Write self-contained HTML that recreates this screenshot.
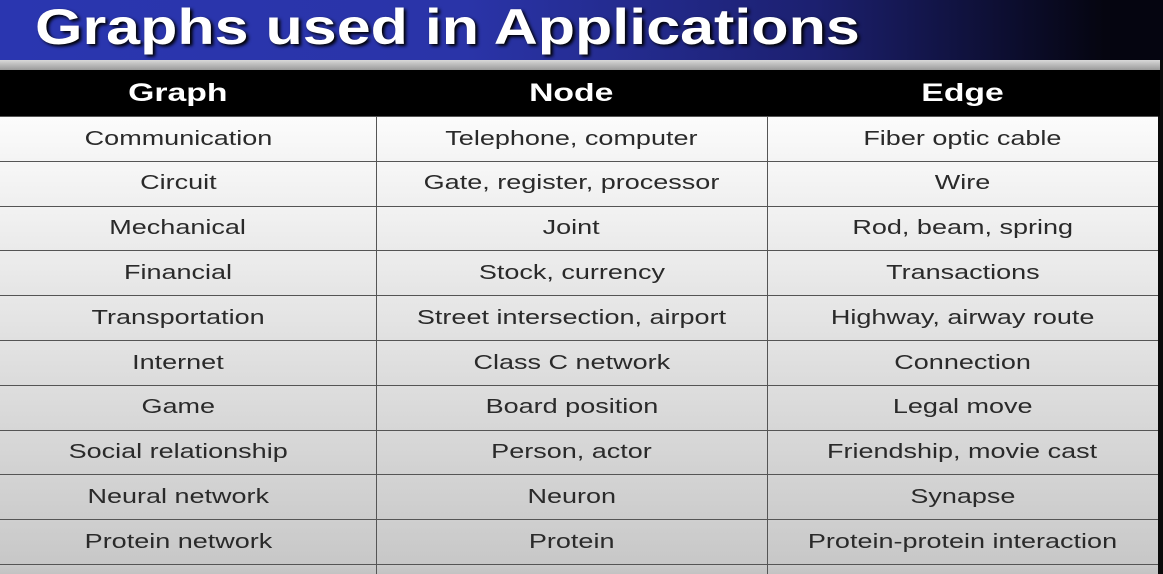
<!DOCTYPE html>
<html><head><meta charset="utf-8"><style>
html,body{margin:0;padding:0;width:1163px;height:574px;overflow:hidden;background:#0a0a0a;font-family:"Liberation Sans",sans-serif}
#wrap{position:relative;width:1163px;height:574px;overflow:hidden}
.title{position:absolute;left:0;top:0;width:1163px;height:60px;background:linear-gradient(90deg,#2a36b0 0%,#2a34a8 40%,#1c2070 70%,#050510 95%)}
.title span{position:absolute;left:35px;top:-2px;font-size:50px;font-weight:bold;color:#fff;transform:scaleX(1.22);transform-origin:left top;white-space:nowrap;text-shadow:2px 2px 3px #000}
.band{position:absolute;left:0;top:60px;width:1160px;height:10px;background:linear-gradient(#d8d8d8,#9a9a9a)}
.hdr{position:absolute;left:0;top:70px;width:1160px;height:46px;background:#000}
.cell{position:absolute;display:flex;align-items:center;justify-content:center;white-space:nowrap}
.cell span{display:inline-block;transform:scaleX(1.35)}
.h span{color:#fff;font-weight:bold;font-size:25px;transform:scaleX(1.35)}
.r{position:absolute;left:0;width:1158px;border-top:1.5px solid #555;}
.c span{font-size:20px;color:#2a2a2a}
.vl{position:absolute;top:116px;height:458px;width:1px;background:#555}
</style></head><body><div id="wrap">
<div class="title"><span>Graphs used in Applications</span></div>
<div class="band"></div>
<div class="hdr"></div>
<div class="cell h" style="left:0;width:356px;top:70px;height:46px"><span>Graph</span></div>
<div class="cell h" style="left:376px;width:391px;top:70px;height:46px"><span>Node</span></div>
<div class="cell h" style="left:767px;width:391px;top:70px;height:46px"><span>Edge</span></div>
<div id="rows"></div>
</div>
<script>
var d=[["Communication","Telephone, computer","Fiber optic cable"],["Circuit","Gate, register, processor","Wire"],["Mechanical","Joint","Rod, beam, spring"],["Financial","Stock, currency","Transactions"],["Transportation","Street intersection, airport","Highway, airway route"],["Internet","Class C network","Connection"],["Game","Board position","Legal move"],["Social relationship","Person, actor","Friendship, movie cast"],["Neural network","Neuron","Synapse"],["Protein network","Protein","Protein-protein interaction"],["","",""]];
var h="",xs=[[0,356],[376,391],[767,391]];
for(var i=0;i<d.length;i++){var t=116+i*44.8;var hh=(i==d.length-1)?(574-t):44.8;var g=Math.round(252-i*5);
h+='<div class="r" style="top:'+t+'px;height:'+hh+'px;background:linear-gradient('+'rgb('+g+','+g+','+g+'),rgb('+(g-8)+','+(g-8)+','+(g-8)+'))"></div>';
if(d[i][0])for(var j=0;j<3;j++)h+='<div class="cell c" style="left:'+xs[j][0]+'px;width:'+xs[j][1]+'px;top:'+(t+1)+'px;height:44px"><span>'+d[i][j]+'</span></div>';}
h+='<div class="vl" style="left:376px"></div><div class="vl" style="left:767px"></div>';
document.getElementById("rows").innerHTML=h;
</script>
</body></html>
